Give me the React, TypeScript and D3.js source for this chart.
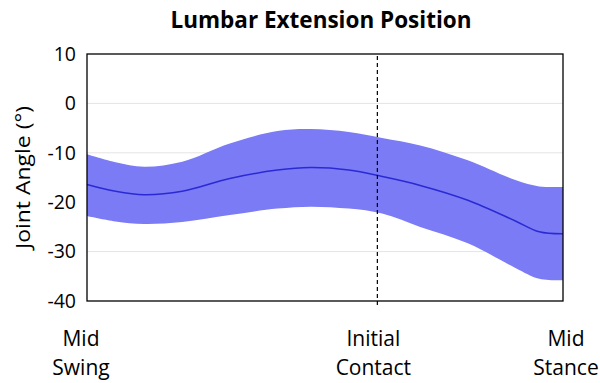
import React from "react";
import * as d3 from "d3";

// Gait-cycle positions (% of the plotted window)
const cyclePct = [0, 6, 12, 20, 30, 40, 47, 55, 62, 70, 80, 90, 95, 100];
// Mean lumbar extension angle (°)
const meanAngle = [-16.4, -17.8, -18.5, -17.8, -15.2, -13.5, -13.0, -13.5, -14.8, -16.6, -19.6, -23.8, -26.0, -26.4];
// Upper and lower bounds of the variability band (°)
const upperAngle = [-10.3, -11.9, -12.8, -11.8, -8.1, -5.6, -5.2, -5.8, -7.0, -8.5, -11.5, -15.5, -16.8, -16.9];
const lowerAngle = [-22.8, -23.9, -24.4, -24.0, -22.6, -21.3, -20.9, -21.3, -22.3, -25.0, -28.3, -33.3, -35.5, -35.8];

const yTicks = [10, 0, -10, -20, -30, -40];
const gridTicks = [0, -10, -20, -30];
const initialContactPct = 61;

const events = [
  { pct: 0, lines: ["Mid", "Swing"], nudge: -6 },
  { pct: initialContactPct, lines: ["Initial", "Contact"], nudge: -4 },
  { pct: 100, lines: ["Mid", "Stance"], nudge: 3 },
];

const W = 600;
const H = 383;
const plot = { left: 87, right: 563, top: 54, bottom: 301 };
const font = "'Open Sans', sans-serif";

export default function App() {
  const x = d3.scaleLinear().domain([0, 100]).range([plot.left, plot.right]);
  const y = d3.scaleLinear().domain([10, -40]).range([plot.top, plot.bottom]);

  const rows = cyclePct.map((p, i) => ({ p, m: meanAngle[i], u: upperAngle[i], l: lowerAngle[i] }));
  const curve = d3.curveCatmullRom.alpha(0.5);

  const band = d3
    .area<(typeof rows)[number]>()
    .x((d) => x(d.p))
    .y0((d) => y(d.l))
    .y1((d) => y(d.u))
    .curve(curve)(rows);

  const line = d3
    .line<(typeof rows)[number]>()
    .x((d) => x(d.p))
    .y((d) => y(d.m))
    .curve(curve)(rows);

  const icX = x(initialContactPct);

  return (
    <svg
      width={W}
      height={H}
      style={{ position: "absolute", left: 0, top: 0, display: "block", background: "#fff" }}
    >
      <text x={321} y={28} textAnchor="middle" fontFamily={font} fontWeight="bold" fontSize={22.5} fill="#000">
        Lumbar Extension Position
      </text>

      {gridTicks.map((t) => (
        <line key={t} x1={plot.left} x2={plot.right} y1={y(t)} y2={y(t)} stroke="#e4e4e4" strokeWidth={1} />
      ))}

      <path d={band ?? ""} fill="#7b7bf6" stroke="none" />
      <path d={line ?? ""} fill="none" stroke="#2a2ad4" strokeWidth={1.5} />

      <line x1={icX} x2={icX} y1={plot.top + 2} y2={plot.bottom + 5} stroke="#000" strokeWidth={1.2} strokeDasharray="4,3" />

      <rect
        x={plot.left}
        y={plot.top}
        width={plot.right - plot.left}
        height={plot.bottom - plot.top}
        fill="none"
        stroke="#000"
        strokeWidth={1.3}
      />

      {yTicks.map((t) => (
        <text key={t} x={76} y={y(t)} dy="0.35em" textAnchor="end" fontFamily={font} fontSize={19.5} fill="#000">
          {t}
        </text>
      ))}

      <text
        transform={`translate(23,${(plot.top + plot.bottom) / 2}) rotate(-90)`}
        textAnchor="middle"
        dy="0.35em"
        fontFamily={font}
        fontSize={19.5}
        textLength={143}
        lengthAdjust="spacingAndGlyphs"
        fill="#000"
      >
        Joint Angle (°)
      </text>

      {events.map((e) => (
        <text key={e.lines.join(" ")} textAnchor="middle" fontFamily={font} fontSize={21} fill="#000">
          {e.lines.map((s, i) => (
            <tspan key={s} x={x(e.pct) + e.nudge} y={346 + i * 29}>
              {s}
            </tspan>
          ))}
        </text>
      ))}
    </svg>
  );
}
